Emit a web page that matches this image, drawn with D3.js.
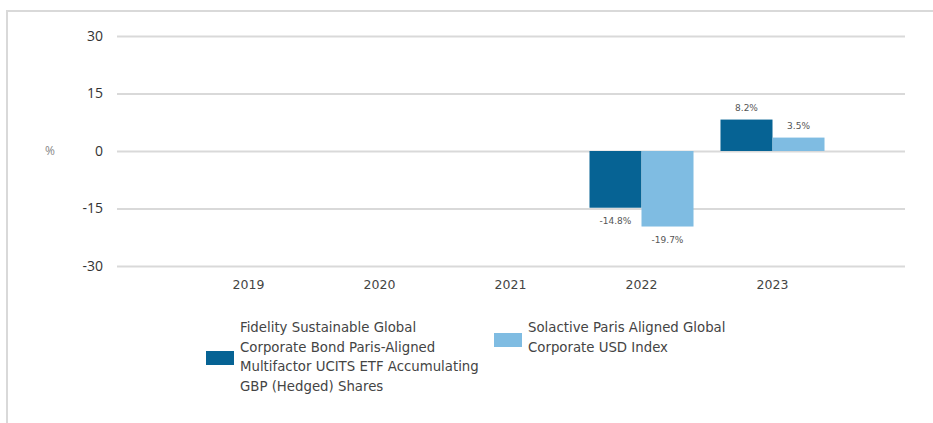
<!DOCTYPE html>
<html lang="en">
<head>
    <meta charset="UTF-8">
    <title>Calendar year performance</title>
    <script src="https://cdn.jsdelivr.net/npm/d3@7"></script>
    <style>
        body{
            margin: 0;
            background: #fff;
        }
        #chart{
            display: block;
        }
        .tick text{
            font-family: "Open Sans", sans-serif;
        }
    </style>
</head>
<body>
<svg id="chart" width="933" height="423"></svg>
<script>

    // chart data
    const years = ["2019", "2020", "2021", "2022", "2023"]
    const seriesNames = [
        "Fidelity Sustainable Global Corporate Bond Paris-Aligned Multifactor UCITS ETF Accumulating GBP (Hedged) Shares",
        "Solactive Paris Aligned Global Corporate USD Index"
    ]
    const fundValues = [null, null, null, -14.8, 8.2]
    const indexValues = [null, null, null, -19.7, 3.5]
    const yTicks = [-30, -15, 0, 15, 30]
    const colors = ["#066394", "#7fbce2"]

    const svg = d3.select("#chart")

    // frame round the chart
    svg.append("path")
        .attr("d", "M7,423 V11 H933")
        .attr("fill", "none")
        .attr("stroke", "#d9d9d9")
        .attr("stroke-width", 2)

    const y = d3.scaleLinear().domain([-30, 30]).range([266, 36])
    const x = d3.scaleBand().domain(years).range([183, 838]).paddingInner(0.206).paddingOuter(0.103)
    const xInner = d3.scaleBand().domain([0, 1]).range([0, x.bandwidth()])

    // grid + y labels
    const yAxis = svg.append("g")
        .attr("transform", "translate(117,0)")
        .call(d3.axisLeft(y).tickValues(yTicks).tickSize(-788).tickPadding(14).tickFormat(d => String(d)))
    yAxis.select(".domain").remove()
    yAxis.selectAll(".tick line").attr("stroke", "#d9d9d9").attr("stroke-width", 2)
    yAxis.selectAll(".tick text").attr("font-size", 14).attr("fill", "#333")

    svg.append("text")
        .attr("x", 50)
        .attr("y", y(0))
        .attr("dy", "0.35em")
        .attr("text-anchor", "middle")
        .attr("font-family", "Open Sans, sans-serif")
        .attr("font-size", 12)
        .attr("fill", "#888")
        .text("%")

    // x labels
    svg.append("g").selectAll("text")
        .data(years)
        .enter()
        .append("text")
        .attr("x", d => x(d) + x.bandwidth() / 2)
        .attr("y", 289)
        .attr("text-anchor", "middle")
        .attr("font-family", "DejaVu Sans, sans-serif")
        .attr("font-size", 12.5)
        .attr("fill", "#444")
        .text(d => d)

    // bars
    const series = [fundValues, indexValues]
    series.forEach((vals, i) => {
        const items = years.map((yr, j) => ({year: yr, value: vals[j]})).filter(d => d.value !== null)
        const g = svg.append("g")
        g.selectAll("rect")
            .data(items)
            .enter()
            .append("rect")
            .attr("x", d => x(d.year) + xInner(i))
            .attr("width", xInner.bandwidth())
            .attr("y", d => y(Math.max(0, d.value)))
            .attr("height", d => Math.abs(y(d.value) - y(0)))
            .attr("fill", colors[i])
        g.selectAll("text")
            .data(items)
            .enter()
            .append("text")
            .attr("x", d => x(d.year) + xInner(i) + xInner.bandwidth() / 2)
            .attr("y", d => d.value >= 0 ? y(d.value) - 9 : y(d.value) + 16)
            .attr("text-anchor", "middle")
            .attr("font-family", "DejaVu Sans, sans-serif")
            .attr("font-size", 9)
            .attr("fill", "#555")
            .text(d => d.value.toFixed(1) + "%")
    })

    // legend
    const legendLines = [
        ["Fidelity Sustainable Global", "Corporate Bond Paris-Aligned", "Multifactor UCITS ETF Accumulating", "GBP (Hedged) Shares"],
        ["Solactive Paris Aligned Global", "Corporate USD Index"]
    ]
    const legendPos = [{sx: 206, sy: 351, tx: 240}, {sx: 494, sy: 333, tx: 528}]
    legendLines.forEach((lines, i) => {
        const p = legendPos[i]
        svg.append("rect")
            .attr("x", p.sx).attr("y", p.sy)
            .attr("width", 28).attr("height", 14)
            .attr("fill", colors[i])
        svg.append("text")
            .attr("font-family", "DejaVu Sans, sans-serif")
            .attr("font-size", 13.3)
            .attr("fill", "#444")
            .selectAll("tspan")
            .data(lines)
            .enter()
            .append("tspan")
            .attr("x", p.tx)
            .attr("y", (d, k) => 332 + k * 19.7)
            .text(d => d)
    })

</script>
</body>
</html>
